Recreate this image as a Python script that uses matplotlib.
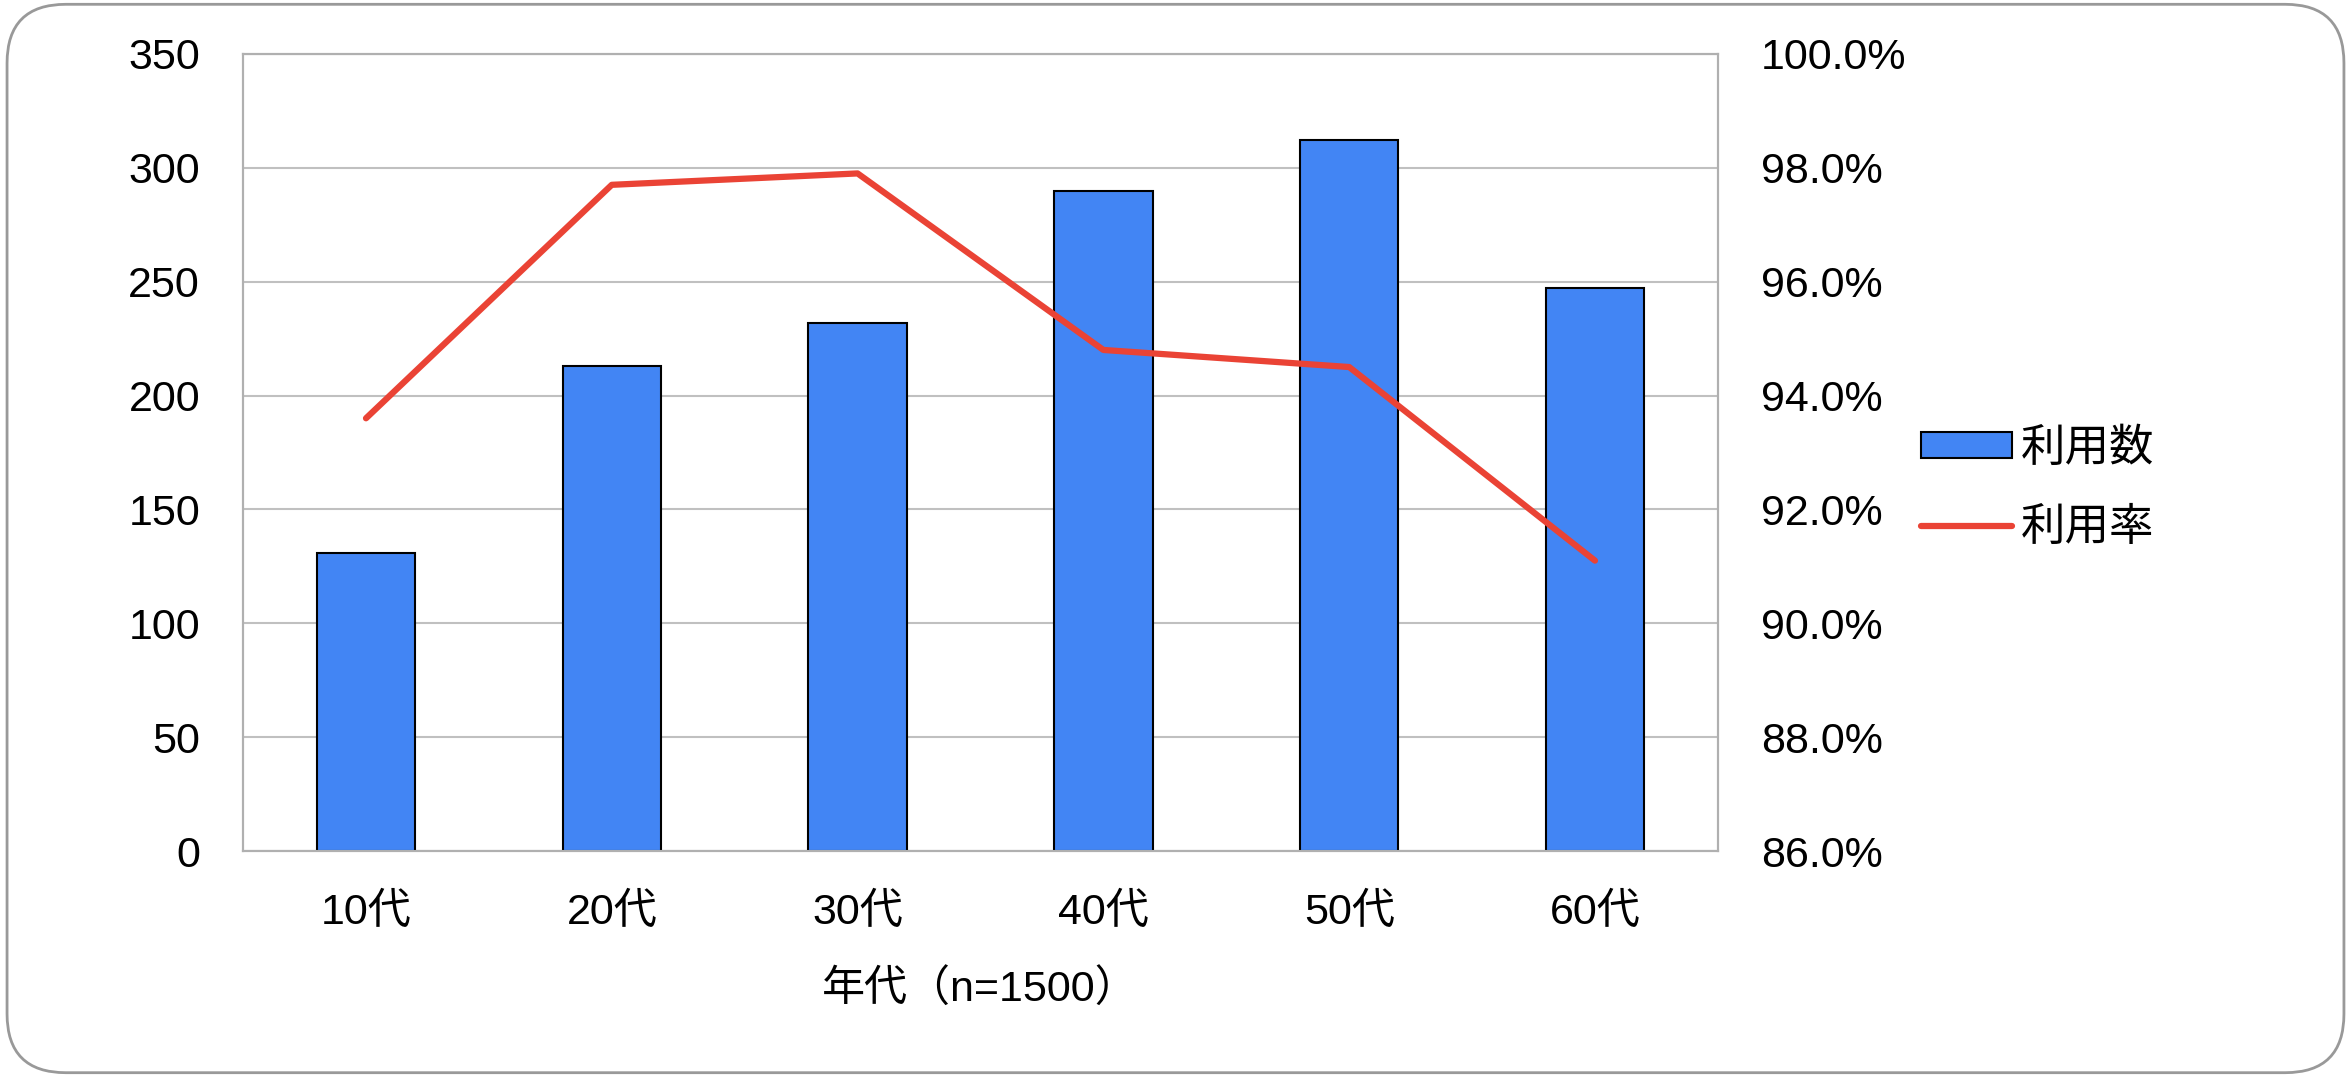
import numpy as np
import matplotlib
matplotlib.use('Agg')
import matplotlib.pyplot as plt
import matplotlib.ticker as ticker
from matplotlib.patches import FancyBboxPatch, Patch
from matplotlib.lines import Line2D

plt.rcParams['font.family'] = ['Liberation Sans', 'Noto Sans CJK JP', 'DejaVu Sans']

# data
ages = ['10代', '20代', '30代', '40代', '50代', '60代']
users = [131, 213, 232, 290, 312, 247]
rate = [93.6, 97.7, 97.9, 94.8, 94.5, 91.1]

bar_color = '#4285f4'
line_color = '#ea4335'
grid_color = '#c0c0c0'
fs = 31

fig = plt.figure(figsize=(23.51, 10.77), dpi=100)
ax1 = fig.add_axes([0.1034, 0.2098, 0.6273, 0.7402])

x = np.arange(len(ages))
ax1.bar(x, users, width=0.40, color=bar_color, edgecolor='black', linewidth=1.5, zorder=3)
ax1.set_xlim(-0.5, len(ages) - 0.5)
ax1.set_ylim(0, 350)
ax1.yaxis.set_major_locator(ticker.MultipleLocator(50))
ax1.set_xticks(x)
ax1.set_xticklabels(ages)
ax1.grid(axis='y', color=grid_color, linewidth=1.5, zorder=0)
ax1.set_axisbelow(True)
ax1.tick_params(axis='both', length=0, labelsize=fs)
ax1.tick_params(axis='y', pad=31)
ax1.tick_params(axis='x', pad=30)
ax1.set_xlabel('年代（n=1500）', fontsize=fs, labelpad=27)
for s in ax1.spines.values():
	s.set_color('#b0b0b0')
	s.set_linewidth(1.5)

ax2 = ax1.twinx()
ax2.plot(x, rate, color=line_color, linewidth=4.5, solid_capstyle='round', zorder=4)
ax2.set_ylim(86, 100)
ax2.yaxis.set_major_locator(ticker.MultipleLocator(2))
ax2.yaxis.set_major_formatter(ticker.FuncFormatter(lambda v, p: f'{v:.1f}%'))
ax2.tick_params(axis='y', length=0, labelsize=fs, pad=31)
for s in ax2.spines.values():
	s.set_color('#b0b0b0')
	s.set_linewidth(1.5)

handles = [Patch(facecolor=bar_color, edgecolor='black', linewidth=1.5, label='利用数'),
	Line2D([0], [0], color=line_color, linewidth=4.5, solid_capstyle='round', label='利用率')]
fig.legend(handles=handles, loc='center left', bbox_to_anchor=(0.817, 0.546), frameon=False,
	fontsize=fs, borderpad=0, borderaxespad=0, handlelength=2.05, handleheight=0.51,
	handletextpad=0.2, labelspacing=0.86, prop={'size': 32})

# rounded frame around the whole chart
border = FancyBboxPatch((0.003, 0.004), 0.994, 0.992, boxstyle='round,pad=0,rounding_size=0.025',
	transform=fig.transFigure, facecolor='none', edgecolor='#999999', linewidth=2,
	mutation_aspect=2351 / 1077)
fig.patches.append(border)

fig.savefig('out.png', dpi=100)
